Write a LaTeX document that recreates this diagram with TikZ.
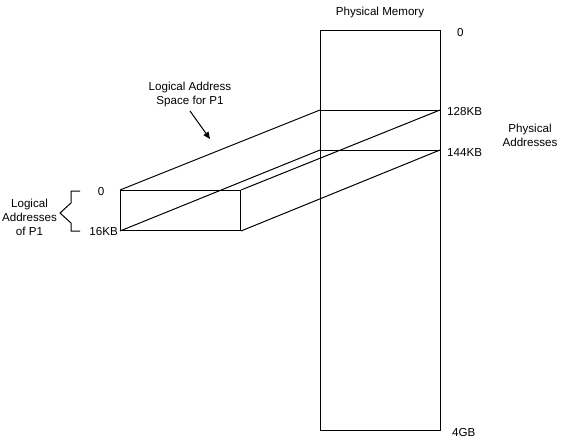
\documentclass[tikz,border=0pt]{standalone}
\usepackage{fontspec}
\setmainfont{Liberation Sans}
\usetikzlibrary{arrows.meta}
\begin{document}
\begin{tikzpicture}[x=1pt,y=-1pt,
  lbl/.style={font=\fontsize{11.6}{14}\selectfont, inner sep=0pt, align=center},
  edge/.style={line width=1pt, line join=miter},
  ]
\useasboundingbox (0,0) rectangle (561,441);
% physical memory
\node[draw, line width=1pt, minimum width=120pt, minimum height=400pt, inner sep=0pt, anchor=north west] (mem) at (320,30) {};
\coordinate (m128l) at (320,110);
\coordinate (m128r) at (440,110);
\coordinate (m144l) at (320,150);
\coordinate (m144r) at (440,150);
\draw[edge] (m128l) -- (m128r);
\draw[edge] (m144l) -- (m144r);
% logical box
\node[draw, line width=1pt, minimum width=120pt, minimum height=40pt, inner sep=0pt, anchor=north west] (lbox) at (120,190) {};
\draw[edge] (lbox.north west) -- (m128l);
\draw[edge] (lbox.north east) -- (m128r);
\draw[edge] (lbox.south west) -- (m144l);
\draw[edge] (lbox.south east) -- (m144r);
% labels
\node[lbl] (pm) at (380,13) {Physical Memory};
\node[lbl, anchor=west] (p0) at (457,33) {0};
\node[lbl, anchor=west] (p128) at (447,112) {128KB};
\node[lbl, anchor=west] (p144) at (447,153) {144KB};
\node[lbl, anchor=west] (p4) at (452,432) {4GB};
\node[lbl] (pa) at (530,135) {Physical\\Addresses};
\node[lbl] (las) at (190,95) {Logical Address\\Space for P1};
\node[lbl] (l0) at (101,192) {0};
\node[lbl, anchor=east] (l16) at (118,232) {16KB};
\node[lbl] (la) at (29.5,217) {Logical\\Addresses\\of P1};
% arrow
\coordinate (a1) at (190,111);
\coordinate (a2) at (210,139);
\draw[line width=1pt, -{Triangle[length=7pt,width=6pt]}] (a1) -- (a2);
% brace
\coordinate (b1) at (80,191);
\coordinate (b2) at (71,191);
\coordinate (b3) at (71,203);
\coordinate (b4) at (60,213);
\coordinate (b5) at (71,223);
\coordinate (b6) at (71,231);
\coordinate (b7) at (80,231);
\draw[line width=1pt] (b1) -- (b2) -- (b3) -- (b4) -- (b5) -- (b6) -- (b7);
\end{tikzpicture}
\end{document}
